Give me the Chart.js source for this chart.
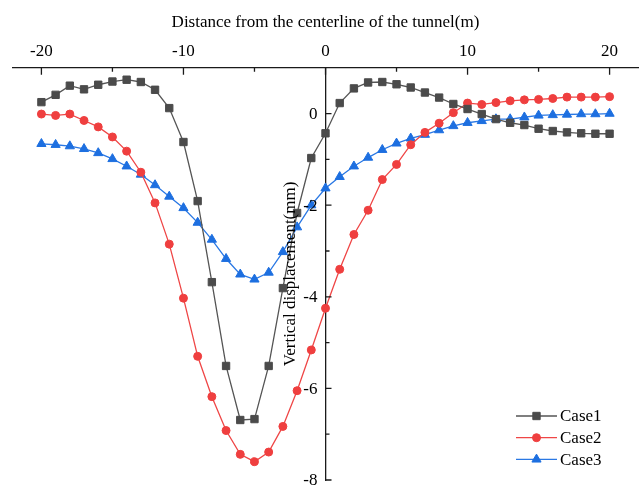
<!DOCTYPE html>
<html>
<head>
<meta charset="utf-8">
<script src="https://cdn.jsdelivr.net/npm/chart.js@4/dist/chart.umd.min.js"></script>
<style>
    html, body { margin: 0; padding: 0; background: #fff; }
    #wrap { width: 644px; height: 487px; }
</style>
</head>
<body>
<div id="wrap"><canvas id="chart" width="644" height="487"></canvas></div>
<script>
// 数据 - 距隧道中线距离 (m)
const distances = [-20, -19, -18, -17, -16, -15, -14, -13, -12, -11, -10, -9, -8, -7, -6, -5, -4, -3, -2, -1, 0,
    1, 2, 3, 4, 5, 6, 7, 8, 9, 10, 11, 12, 13, 14, 15, 16, 17, 18, 19, 20];

// 竖向位移 (mm)
const case1 = [0.25, 0.41, 0.61, 0.53, 0.63, 0.70, 0.74, 0.69, 0.52, 0.12, -0.62, -1.91, -3.68, -5.51, -6.69, -6.67,
    -5.51, -3.81, -2.17, -0.97, -0.43, 0.23, 0.55, 0.68, 0.69, 0.64, 0.57, 0.46, 0.35, 0.21, 0.10,
    -0.01, -0.12, -0.20, -0.25, -0.33, -0.38, -0.41, -0.43, -0.44, -0.44];
const case2 = [-0.01, -0.04, -0.01, -0.15, -0.29, -0.51, -0.82, -1.28, -1.95, -2.85, -4.03, -5.30, -6.18, -6.92, -7.44, -7.60,
    -7.39, -6.83, -6.05, -5.16, -4.25, -3.40, -2.64, -2.11, -1.44, -1.11, -0.68, -0.41, -0.21, 0.02, 0.23,
    0.20, 0.24, 0.28, 0.30, 0.31, 0.33, 0.36, 0.36, 0.36, 0.37];
const case3 = [-0.66, -0.68, -0.71, -0.77, -0.86, -0.99, -1.15, -1.33, -1.56, -1.81, -2.06, -2.38, -2.75, -3.17, -3.51, -3.62,
    -3.47, -3.02, -2.48, -2.00, -1.63, -1.38, -1.15, -0.96, -0.79, -0.65, -0.54, -0.46, -0.36, -0.27, -0.20,
    -0.16, -0.12, -0.12, -0.08, -0.04, -0.03, -0.02, -0.01, -0.01, 0.00];

const seriesNames = ['Case1', 'Case2', 'Case3'];

// 刻度
const xMajorTicks = [-20, -10, 0, 10, 20];
const xMinorTicks = [-15, -5, 5, 15];
const yMajorTicks = [0, -2, -4, -6, -8];
const yMinorTicks = [-1, -3, -5, -7];

const xTitle = 'Distance from the centerline of the tunnel(m)';
const yTitle = 'Vertical displacement(mm)';

const FONT = '"Liberation Serif", "Times New Roman", serif';
const AXIS_COLOR = '#1a1a1a';

const styles = [
    { color: '#4b4b4b', line: '#555555', pointStyle: 'rect', radius: 5.2 },
    { color: '#ef3f3f', line: '#ef4646', pointStyle: 'circle', radius: 4 },
    { color: '#1d6fe0', line: '#2a78e4', pointStyle: 'triangle', radius: 5.3 },
];

function toPoints(values) {
    return distances.map((d, i) => ({ x: d, y: values[i] }));
}

const datasets = [case1, case2, case3].map((vals, i) => ({
    label: seriesNames[i],
    data: toPoints(vals),
    borderColor: styles[i].line,
    backgroundColor: styles[i].color,
    pointBackgroundColor: styles[i].color,
    pointBorderColor: styles[i].color,
    pointBorderWidth: 1,
    pointStyle: styles[i].pointStyle,
    pointRadius: styles[i].radius,
    borderWidth: 1.3,
    tension: 0,
}));

// 内向刻度线 + 中轴的标签和标题
const centerAxis = {
    id: 'centerAxis',
    afterDatasetsDraw(chart) {
        const { ctx, chartArea } = chart;
        const xs = chart.scales.x;
        const ys = chart.scales.y;
        const x0 = xs.getPixelForValue(0);
        ctx.save();
        ctx.strokeStyle = AXIS_COLOR;
        ctx.lineWidth = 1.3;
        ctx.beginPath();
        xMajorTicks.forEach(v => {
            const px = xs.getPixelForValue(v);
            ctx.moveTo(px, chartArea.top);
            ctx.lineTo(px, chartArea.top + 7);
        });
        xMinorTicks.forEach(v => {
            const px = xs.getPixelForValue(v);
            ctx.moveTo(px, chartArea.top);
            ctx.lineTo(px, chartArea.top + 4);
        });
        yMajorTicks.forEach(v => {
            const py = ys.getPixelForValue(v);
            ctx.moveTo(x0, py);
            ctx.lineTo(x0 + 6, py);
        });
        yMinorTicks.forEach(v => {
            const py = ys.getPixelForValue(v);
            ctx.moveTo(x0, py);
            ctx.lineTo(x0 + 4, py);
        });
        ctx.stroke();

        // y 轴标签
        ctx.fillStyle = '#000';
        ctx.font = '17px ' + FONT;
        ctx.textAlign = 'right';
        ctx.textBaseline = 'middle';
        yMajorTicks.forEach(v => {
            ctx.fillText(String(v), x0 - 8, ys.getPixelForValue(v) + 1);
        });

        // y 轴标题
        ctx.translate(x0 - 35, (chartArea.top + chartArea.bottom) / 2);
        ctx.rotate(-Math.PI / 2);
        ctx.textAlign = 'center';
        ctx.fillText(yTitle, 0, 0);
        ctx.restore();
    }
};

// 图例: 线 + 标记
const lineLegend = {
    id: 'lineLegend',
    afterDraw(chart) {
        const { ctx } = chart;
        ctx.save();
        chart.data.datasets.forEach((ds, i) => {
            const y = 416 + i * 21.7;
            ctx.strokeStyle = ds.borderColor;
            ctx.lineWidth = 1.3;
            ctx.beginPath();
            ctx.moveTo(516, y);
            ctx.lineTo(557, y);
            ctx.stroke();
            ctx.fillStyle = ds.pointBackgroundColor;
            ctx.strokeStyle = ds.pointBorderColor;
            ctx.lineWidth = 1;
            Chart.helpers.drawPoint(ctx, { pointStyle: ds.pointStyle, radius: ds.pointRadius, rotation: 0, borderWidth: 1 }, 536.5, y);
            ctx.fillStyle = '#000';
            ctx.font = '17px ' + FONT;
            ctx.textBaseline = 'middle';
            ctx.textAlign = 'left';
            ctx.fillText(ds.label, 560, y + 1);
        });
        ctx.restore();
    }
};

new Chart(document.getElementById('chart'), {
    type: 'line',
    data: { datasets },
    options: {
        responsive: false,
        animation: false,
        devicePixelRatio: 1,
        layout: { autoPadding: false, padding: { left: 13, right: 6, top: 0, bottom: 7 } },
        plugins: {
            legend: { display: false },
            tooltip: { enabled: false },
        },
        scales: {
            x: {
                type: 'linear',
                position: 'top',
                min: -22,
                max: 22,
                afterBuildTicks: scale => { scale.ticks = xMajorTicks.map(v => ({ value: v })); },
                grid: { display: true, drawOnChartArea: false, drawTicks: false },
                border: { display: true, color: AXIS_COLOR, width: 1.3 },
                ticks: { color: '#000', font: { family: FONT, size: 17 }, padding: 6, maxRotation: 0 },
                title: {
                    display: true,
                    text: xTitle,
                    color: '#000',
                    font: { family: FONT, size: 17 },
                    padding: { top: 12, bottom: 3 },
                },
            },
            y: {
                type: 'linear',
                position: { x: 0 },
                min: -8,
                max: 1,
                afterBuildTicks: scale => { scale.ticks = yMajorTicks.map(v => ({ value: v })); },
                grid: { display: true, drawOnChartArea: false, drawTicks: false },
                border: { display: true, color: AXIS_COLOR, width: 1.3 },
                ticks: { display: false },
                title: { display: false },
            },
        },
    },
    plugins: [centerAxis, lineLegend],
});
</script>
</body>
</html>
